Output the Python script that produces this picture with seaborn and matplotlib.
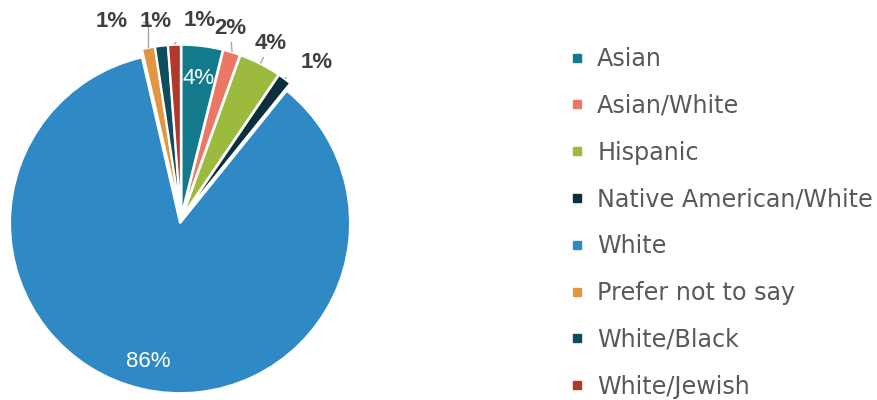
import numpy as np
import matplotlib
matplotlib.use("Agg")
import matplotlib.pyplot as plt
from matplotlib.lines import Line2D
import seaborn as sns

sns.set_theme(style="white")
plt.rcParams["font.family"] = ["DejaVu Sans"]
LABEL_FONT = ["Liberation Sans", "DejaVu Sans"]

# ---------------------------------------------------------------- data
groups = ["Asian", "Asian/White", "Hispanic", "Native American/White",
          "White", "Prefer not to say", "White/Black", "White/Jewish"]
shares = [3.9, 1.6, 4.0, 1.3, 85.6, 1.2, 1.2, 1.2]
colors = ["#137a8c", "#ea7864", "#9cbb3e", "#0c2f3d",
          "#2f89c5", "#e3963f", "#0e4e5c", "#b0392b"]

# label layout: inside (radius) or outside (text x, y in radius units)
inside = {"Asian": 0.83, "White": 0.86}
outside = {"Asian/White": (0.29, 1.12), "Hispanic": (0.53, 1.03),
           "Native American/White": (0.80, 0.92), "Prefer not to say": (-0.41, 1.16),
           "White/Black": (-0.15, 1.16), "White/Jewish": (0.11, 1.17)}

fig = plt.figure(figsize=(8.77, 4.0), dpi=100)
R_PX, CX, CY = 170, 181, 219
side = 2.4 * R_PX
ax = fig.add_axes([(CX - side / 2) / 877, (400 - CY - side / 2) / 400, side / 877, side / 400])

wedges, _ = ax.pie(shares, colors=colors, startangle=90, counterclock=False,
                   explode=[0.025] * len(shares), radius=1.0,
                   wedgeprops=dict(edgecolor="white", linewidth=1.5))
ax.set_xlim(-1.2, 1.2)
ax.set_ylim(-1.2, 1.2)
ax.set_aspect("equal")
ax.axis("off")

for w, g, s in zip(wedges, groups, shares):
    mid = np.deg2rad((w.theta1 + w.theta2) / 2)
    lbl = f"{round(s):.0f}%"
    if g in inside:
        r = inside[g]
        ax.text(r * np.cos(mid), r * np.sin(mid), lbl, ha="center", va="center",
                color="white", fontsize=16, family=LABEL_FONT)
    else:
        tx, ty = outside[g]
        conn = "angle,angleA=0,angleB=90,rad=0" if g == "Prefer not to say" else "arc3"
        lw = 0 if g == "White/Black" else 1
        ax.annotate(lbl, xy=(1.03 * np.cos(mid), 1.03 * np.sin(mid)), xytext=(tx, ty),
                    ha="center", va="center", color="#3f3f3f", fontsize=16,
                    family=LABEL_FONT, fontweight="bold",
                    arrowprops=dict(arrowstyle="-", color="#a6a6a6", lw=lw,
                                    shrinkA=9, shrinkB=0, connectionstyle=conn))

handles = [Line2D([], [], marker="s", linestyle="", markersize=6, color=c) for c in colors]
fig.legend(handles, groups, loc="upper left", bbox_to_anchor=(571 / 877, 1 - 47 / 400),
           frameon=False, fontsize=17.2, labelcolor="#595959", handlelength=0.5,
           handletextpad=0.6, labelspacing=0.954, borderaxespad=0, borderpad=0)

fig.savefig("out.png", dpi=100)
